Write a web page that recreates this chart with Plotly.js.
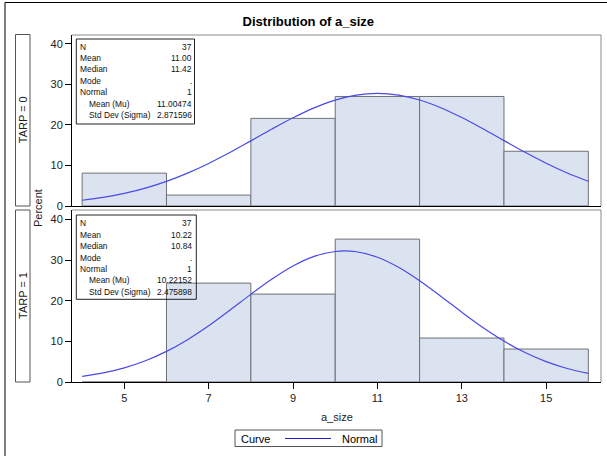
<!DOCTYPE html>
<html>
<head>
<meta charset="utf-8">
<script src="https://cdn.plot.ly/plotly-3.0.1.min.js"></script>
<style>html,body{margin:0;padding:0;background:#fff;}#chart{width:607px;height:456px;}</style>
</head>
<body>
<div id="chart"></div>
<script>
// ---- data ----
const binCenters = [5, 7, 9, 11, 13, 15];
const binWidth = 2;
const pctTarp0 = [8.11, 2.70, 21.62, 27.03, 27.03, 13.51];
const pctTarp1 = [0, 24.32, 21.62, 35.14, 10.81, 8.11];
const curveX = [4, 4.5, 5, 5.5, 6, 6.5, 7, 7.5, 8, 8.5, 9, 9.5, 10, 10.5, 11, 11.5, 12, 12.5, 13, 13.5, 14, 14.5, 15, 15.5, 16];
const curveTarp0 = [1.42, 2.13, 3.12, 4.42, 6.08, 8.11, 10.50, 13.19, 16.07, 18.99, 21.77, 24.22, 26.13, 27.36, 27.78, 27.37, 26.16, 24.26, 21.82, 19.05, 16.13, 13.25, 10.56, 8.16, 6.12];
const curveTarp1 = [1.37, 2.23, 3.49, 5.23, 7.53, 10.41, 13.82, 17.62, 21.55, 25.31, 28.54, 30.89, 32.10, 32.03, 30.68, 28.21, 24.90, 21.10, 17.17, 13.41, 10.06, 7.24, 5.01, 3.32, 2.11];
const xTicks = [5, 7, 9, 11, 13, 15];
const yTicks = [0, 10, 20, 30, 40];
const panelLabels = ["TARP = 0", "TARP = 1"];
const statLabels = ["N", "Mean", "Median", "Mode", "Normal", "Mean (Mu)", "Std Dev (Sigma)"];
const statIndent = [false, false, false, false, false, true, true];
const statsTarp0 = ["37", "11.00", "11.42", ".", "1", "11.00474", "2.871596"];
const statsTarp1 = ["37", "10.22", "10.84", ".", "1", "10.22152", "2.475898"];
const legendTitle = "Curve";
const legendItem = "Normal";

// ---- pixel helpers (plot area: x 72..601, y 35..382) ----
const L = 72, R = 601, T = 35, B = 382;
const px = x => (x - L) / (R - L);
const py = y => (B - y) / (B - T);

const FONT = "Liberation Sans, Arial, sans-serif";
const barFill = "#dae3ef", barEdge = "#6e7175", curveColor = "#4a4ae6";

const traces = [
  {type: "bar", x: binCenters, y: pctTarp0, width: binWidth, xaxis: "x2", yaxis: "y2",
   marker: {color: barFill, line: {color: barEdge, width: 1}}, showlegend: false, hoverinfo: "skip"},
  {type: "scatter", mode: "lines", x: curveX, y: curveTarp0, xaxis: "x2", yaxis: "y2",
   line: {color: curveColor, width: 1.2, shape: "spline"}, name: legendItem, showlegend: false},
  {type: "bar", x: binCenters, y: pctTarp1, width: binWidth, xaxis: "x", yaxis: "y",
   marker: {color: barFill, line: {color: barEdge, width: 1}}, showlegend: false, hoverinfo: "skip"},
  {type: "scatter", mode: "lines", x: curveX, y: curveTarp1, xaxis: "x", yaxis: "y",
   line: {color: curveColor, width: 1.2, shape: "spline"}, name: legendItem, showlegend: false}
];

const shapes = [];
const annotations = [];

// outer frame (top and left visible)
shapes.push({type: "line", xref: "paper", yref: "paper", x0: px(5), x1: px(610), y0: py(2.5), y1: py(2.5), line: {color: "#000", width: 1}});
shapes.push({type: "line", xref: "paper", yref: "paper", x0: px(5), x1: px(5), y0: py(2.5), y1: py(460), line: {color: "#000", width: 1}});

// panel gray frames (top and right)
[["x2", "y2"], ["x", "y"]].forEach(([xa, ya]) => {
  shapes.push({type: "line", xref: xa + " domain", yref: ya + " domain", x0: 0, x1: 1, y0: 1, y1: 1, line: {color: "#8a8a8a", width: 1}});
  shapes.push({type: "line", xref: xa + " domain", yref: ya + " domain", x0: 1, x1: 1, y0: 0, y1: 1, line: {color: "#8a8a8a", width: 1}});
});

// row label boxes
const rowBoxes = [[34.5, 206], [210, 382]];
rowBoxes.forEach((b, i) => {
  shapes.push({type: "rect", xref: "paper", yref: "paper", x0: px(15.5), x1: px(30), y0: py(b[0]), y1: py(b[1]),
    line: {color: "#555", width: 1}, fillcolor: "rgba(0,0,0,0)"});
  annotations.push({xref: "paper", yref: "paper", x: px(23), y: py((b[0] + b[1]) / 2), text: panelLabels[i],
    showarrow: false, textangle: -90, font: {family: FONT, size: 11, color: "#222"}, xanchor: "center", yanchor: "middle"});
});

// Percent label
annotations.push({xref: "paper", yref: "paper", x: px(38), y: py(208), text: "Percent", showarrow: false, textangle: -90,
  font: {family: FONT, size: 11, color: "#222"}, xanchor: "center", yanchor: "middle"});
// x title
annotations.push({xref: "paper", yref: "paper", x: px(337), y: py(417), text: "a_size", showarrow: false,
  font: {family: FONT, size: 11, color: "#222"}, xanchor: "center", yanchor: "middle"});

// stat boxes
const statBoxes = [
  {vals: statsTarp0, box: [76.3, 194.5, 39, 124], rows: 46.7},
  {vals: statsTarp1, box: [76.3, 196.3, 215, 299.3], rows: 223.3}
];
statBoxes.forEach(sb => {
  shapes.push({type: "rect", xref: "paper", yref: "paper", x0: px(sb.box[0]), x1: px(sb.box[1]), y0: py(sb.box[2]), y1: py(sb.box[3]),
    line: {color: "#222", width: 1}, fillcolor: "rgba(0,0,0,0)"});
  statLabels.forEach((lab, k) => {
    const yy = py(sb.rows + k * 11.4);
    annotations.push({xref: "paper", yref: "paper", x: px(statIndent[k] ? 86.5 : 78), y: yy, text: lab, showarrow: false,
      xanchor: "left", yanchor: "middle", font: {family: FONT, size: 8.4, color: "#111"}});
    annotations.push({xref: "paper", yref: "paper", x: px(193.5), y: yy, text: sb.vals[k], showarrow: false,
      xanchor: "right", yanchor: "middle", font: {family: FONT, size: 8.4, color: "#111"}});
  });
});

// legend box (drawn manually so it does not push the margins)
shapes.push({type: "rect", xref: "paper", yref: "paper", x0: px(235), x1: px(382), y0: py(430), y1: py(446.5),
  line: {color: "#555", width: 1}, fillcolor: "#fff"});
shapes.push({type: "line", xref: "paper", yref: "paper", x0: px(285), x1: px(331), y0: py(438.5), y1: py(438.5),
  line: {color: "#2020c8", width: 1}});
annotations.push({xref: "paper", yref: "paper", x: px(239), y: py(438.5), text: legendTitle, showarrow: false,
  xanchor: "left", yanchor: "middle", font: {family: FONT, size: 11, color: "#000"}});
annotations.push({xref: "paper", yref: "paper", x: px(379), y: py(438.5), text: legendItem, showarrow: false,
  xanchor: "right", yanchor: "middle", font: {family: FONT, size: 11, color: "#000"}});

const axisCommon = {showgrid: false, zeroline: false, showline: true, linecolor: "#000", linewidth: 1,
  ticks: "outside", ticklen: 6, tickcolor: "#000", tickfont: {family: FONT, size: 11, color: "#222"}};

const layout = {
  width: 607, height: 456,
  margin: {l: L, r: 607 - R, t: T, b: 456 - B, pad: 0},
  paper_bgcolor: "#fff", plot_bgcolor: "#fff",
  title: {text: "<b>Distribution of a_size</b>", xref: "container", x: 0.508, xanchor: "center",
    yref: "container", y: 1 - 21 / 456, yanchor: "middle", font: {family: FONT, size: 13, color: "#000"}},
  bargap: 0,
  showlegend: false,
  xaxis: Object.assign({}, axisCommon, {anchor: "y", range: [3.76, 16.3], tickvals: xTicks, domain: [0, 1]}),
  xaxis2: Object.assign({}, axisCommon, {anchor: "y2", matches: "x", range: [3.76, 16.3], tickvals: xTicks, showticklabels: false, ticks: ""}),
  yaxis: Object.assign({}, axisCommon, {anchor: "x", range: [0, 42.3], tickvals: yTicks, domain: [0, py(210)]}),
  yaxis2: Object.assign({}, axisCommon, {anchor: "x2", range: [0, 42.2], tickvals: yTicks, domain: [py(206), 1]}),
  shapes: shapes,
  annotations: annotations
};

Plotly.newPlot("chart", traces, layout, {displayModeBar: false, staticPlot: true});
</script>
</body>
</html>
